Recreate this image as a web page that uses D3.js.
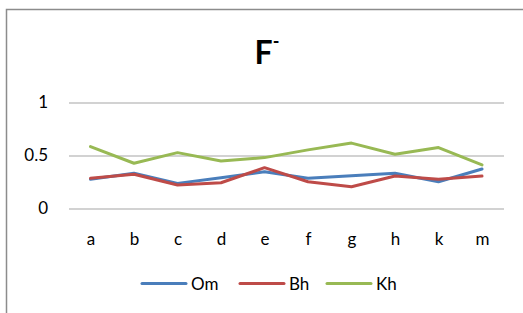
<!DOCTYPE html>
<html><head><meta charset="utf-8">
<script src="https://cdn.jsdelivr.net/npm/d3@7"></script>
<style>body{margin:0;background:#fff}svg{display:block}</style>
</head><body>
<script>
const categories = ["a","b","c","d","e","f","g","h","k","m"];
const om = [0.275,0.332,0.237,0.290,0.347,0.285,0.310,0.332,0.252,0.373];
const bh = [0.285,0.323,0.221,0.243,0.385,0.252,0.205,0.306,0.275,0.306];
const kh = [0.584,0.427,0.527,0.449,0.480,0.553,0.617,0.512,0.575,0.411];
const yTicks = [0, 0.5, 1];
const seriesNames = ["Om","Bh","Kh"];
const colors = ["#4a7ebb","#be4b48","#98b954"];
const series = [om, bh, kh];

const W = 523, H = 313;
const svg = d3.select("body").append("svg").attr("width", W).attr("height", H);
const font = "Lato, 'Open Sans', sans-serif";

// frame
svg.append("path").attr("d", `M6.5,${H+5} V9.5 H${W+5}`).attr("fill","none")
  .attr("stroke","#8c8c8c").attr("stroke-width",1.5);

const x = d3.scalePoint().domain(categories).range([90.5, 482]).padding(0);
const y = d3.scaleLinear().domain([0,1]).range([208.5, 102.5]);

// grid
const gy = svg.append("g").attr("transform","translate(69,0)")
  .call(d3.axisLeft(y).tickValues(yTicks).tickSize(-435).tickFormat(d3.format("")).tickPadding(21));
gy.select(".domain").remove();
gy.selectAll(".tick line").attr("stroke","#a6a6a6").attr("stroke-width",1.2);
gy.selectAll(".tick text").attr("font-family",font).attr("font-size",17).attr("fill","#000");

// x labels
const gx = svg.append("g").attr("transform","translate(0,208.5)")
  .call(d3.axisBottom(x).tickSize(0).tickPadding(24));
gx.select(".domain").remove();
gx.selectAll(".tick text").attr("font-family",font).attr("font-size",17).attr("fill","#000");

const line = d3.line().x((d,i)=>x(categories[i])).y(d=>y(d));
series.forEach((s,k)=>{
  svg.append("path").datum(s).attr("d",line).attr("fill","none")
    .attr("stroke",colors[k]).attr("stroke-width",3).attr("stroke-linejoin","round").attr("stroke-linecap","round");
});

// title
const t = svg.append("text").attr("x",267).attr("y",64).attr("text-anchor","middle")
  .attr("font-family",font).attr("font-weight","bold").attr("font-size",32).attr("fill","#000");
t.append("tspan").text("F");
t.append("tspan").attr("font-size",18).attr("dy",-16).text("-");

// legend
const legX = [142, 240, 327];
const lg = svg.append("g");
seriesNames.forEach((n,k)=>{
  lg.append("line").attr("x1",legX[k]).attr("x2",legX[k]+44).attr("y1",283.5).attr("y2",283.5)
    .attr("stroke",colors[k]).attr("stroke-width",3).attr("stroke-linecap","round");
  lg.append("text").attr("x",legX[k]+49).attr("y",289.5).attr("font-family",font)
    .attr("font-size",17).attr("fill","#000").text(n);
});
</script>
</body></html>
